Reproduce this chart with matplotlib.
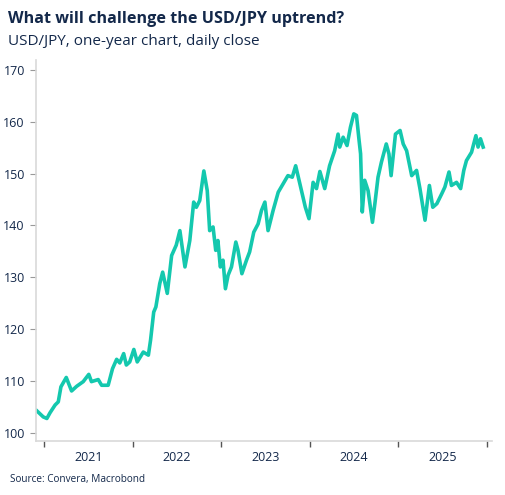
import matplotlib
matplotlib.use("Agg")
import matplotlib.pyplot as plt
import pandas as pd

NAVY = "#13284A"
TEAL = "#14C8AE"
GRID = "#D9D9D9"

plt.rcParams["font.family"] = ["Open Sans", "DejaVu Sans"]

# USD/JPY daily close at roughly two-week steps
dates = [
    "2020-11-30", "2020-12-27", "2021-01-11", "2021-01-24", "2021-02-14", "2021-02-27",
    "2021-03-10", "2021-04-01", "2021-04-23", "2021-05-14", "2021-06-10", "2021-07-03",
    "2021-07-14", "2021-08-11", "2021-08-25", "2021-09-21", "2021-10-09", "2021-10-26",
    "2021-11-08", "2021-11-24", "2021-12-05", "2021-12-19", "2022-01-05", "2022-01-19",
    "2022-02-13", "2022-03-06", "2022-03-15", "2022-03-28", "2022-04-06", "2022-04-22",
    "2022-05-04", "2022-05-23", "2022-06-10", "2022-06-29", "2022-07-14", "2022-08-04",
    "2022-08-24", "2022-09-09", "2022-09-20", "2022-10-04", "2022-10-21", "2022-11-04",
    "2022-11-14", "2022-11-28", "2022-12-09", "2022-12-18", "2022-12-28", "2023-01-08",
    "2023-01-18", "2023-01-29", "2023-02-12", "2023-03-02", "2023-03-11", "2023-03-27",
    "2023-04-15", "2023-04-28", "2023-05-15", "2023-06-02", "2023-06-16", "2023-06-30",
    "2023-07-13", "2023-08-03", "2023-08-24", "2023-09-13", "2023-10-03", "2023-10-21",
    "2023-11-04", "2023-11-23", "2023-12-14", "2023-12-29", "2024-01-15", "2024-01-29",
    "2024-02-12", "2024-03-03", "2024-03-23", "2024-04-13", "2024-04-27", "2024-05-04",
    "2024-05-18", "2024-06-03", "2024-06-17", "2024-07-01", "2024-07-12", "2024-07-23",
    "2024-07-29", "2024-08-05", "2024-08-15", "2024-08-29", "2024-09-16", "2024-09-26",
    "2024-10-09", "2024-10-23", "2024-11-12", "2024-11-23", "2024-12-02", "2024-12-20",
    "2025-01-08", "2025-01-21", "2025-02-04", "2025-02-25", "2025-03-17", "2025-03-31",
    "2025-04-21", "2025-05-09", "2025-05-23", "2025-06-09", "2025-06-29", "2025-07-12",
    "2025-07-29", "2025-08-08", "2025-08-29", "2025-09-15", "2025-09-28", "2025-10-09",
    "2025-10-30", "2025-11-17", "2025-11-26", "2025-12-06", "2025-12-17",
]
usdjpy = [
    104.3, 103.1, 102.8, 103.9, 105.4, 106.0,
    108.9, 110.7, 108.1, 109.0, 109.9, 111.3,
    109.9, 110.3, 109.2, 109.2, 112.4, 114.2,
    113.5, 115.3, 113.1, 113.7, 116.1, 113.7,
    115.6, 115.0, 117.9, 123.3, 124.3, 128.8,
    131.0, 126.9, 134.2, 136.2, 139.0, 132.0,
    137.1, 144.5, 143.5, 144.8, 150.5, 146.7,
    139.0, 139.7, 135.2, 137.1, 132.0, 133.3,
    127.8, 130.4, 132.0, 136.8, 135.2, 130.7,
    133.3, 134.9, 138.7, 140.3, 142.9, 144.5,
    139.0, 142.9, 146.4, 148.0, 149.6, 149.3,
    151.5, 147.7, 143.5, 141.3, 148.3, 147.1,
    150.4, 147.1, 151.5, 154.4, 157.6, 155.1,
    157.0, 155.4, 158.9, 161.5, 161.2, 156.3,
    153.8, 142.6, 148.7, 146.7, 140.6, 144.2,
    149.3, 152.2, 155.7, 153.8, 149.6, 157.6,
    158.3, 155.7, 154.4, 149.6, 150.6, 147.1,
    141.0, 147.7, 143.5, 144.2, 146.1, 147.4,
    150.3, 147.7, 148.3, 147.1, 150.6, 152.5,
    154.1, 157.3, 155.1, 156.7, 155.1,
]
years = [2021, 2022, 2023, 2024, 2025]
yticks = [100, 110, 120, 130, 140, 150, 160, 170]

dt = pd.to_datetime(dates)

fig = plt.figure(figsize=(5.06, 4.95), dpi=100)
ax = fig.add_axes([0.0711, 0.109, 0.901, 0.770])

ax.plot(dt, usdjpy, color=TEAL, lw=2.6, solid_joinstyle="round")

ax.set_ylim(98.45, 171.9)
ax.set_xlim(pd.Timestamp("2020-11-27"), pd.Timestamp("2026-01-22"))

# year boundaries as major ticks, labels centred on mid-year
ax.set_xticks([pd.Timestamp(f"{y}-01-01") for y in years + [years[-1] + 1]])
ax.set_xticklabels([])
ax.set_xticks([pd.Timestamp(f"{y}-07-02") for y in years], minor=True)
ax.set_xticklabels([str(y) for y in years], minor=True)
ax.tick_params(axis="x", which="major", length=4, width=1, color="#555555")
ax.tick_params(axis="x", which="minor", length=0, pad=7, labelsize=9, labelcolor=NAVY)

ax.set_yticks(yticks)
ax.tick_params(axis="y", length=4, width=0.8, color="#999999", pad=4,
               labelsize=9, labelcolor=NAVY)

for s in ["top", "right"]:
    ax.spines[s].set_visible(False)
for s in ["left", "bottom"]:
    ax.spines[s].set_color(GRID)
    ax.spines[s].set_linewidth(1.2)

fig.text(0.016, 0.962, "What will challenge the USD/JPY uptrend?",
         fontsize=11.6, weight="bold", color=NAVY, ha="left", va="center")
fig.text(0.016, 0.916, "USD/JPY, one-year chart, daily close",
         fontsize=11, color=NAVY, ha="left", va="center")
fig.text(0.02, 0.032, "Source: Convera, Macrobond",
         fontsize=7.2, color=NAVY, ha="left", va="center")

fig.savefig("out.png", dpi=100, facecolor="white")
